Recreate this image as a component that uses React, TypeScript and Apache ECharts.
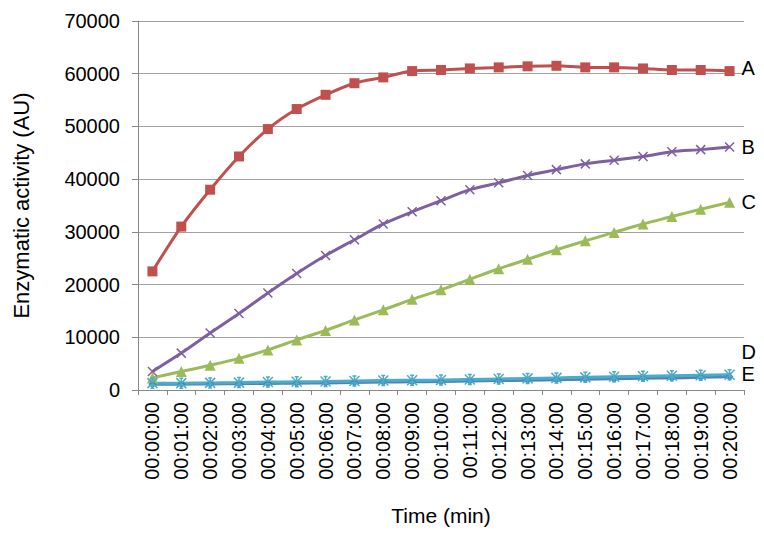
import React, { useEffect, useRef } from "react";
import * as echarts from "echarts";

const times = [
  "00:00:00", "00:01:00", "00:02:00", "00:03:00", "00:04:00", "00:05:00", "00:06:00",
  "00:07:00", "00:08:00", "00:09:00", "00:10:00", "00:11:00", "00:12:00", "00:13:00",
  "00:14:00", "00:15:00", "00:16:00", "00:17:00", "00:18:00", "00:19:00", "00:20:00",
];
const seriesA = [22500, 31000, 38000, 44300, 49500, 53300, 56000, 58200, 59300, 60500, 60700, 61000, 61200, 61400, 61500, 61200, 61200, 61000, 60700, 60700, 60500];
const seriesB = [3500, 7000, 10800, 14500, 18400, 22100, 25500, 28500, 31500, 33800, 35900, 38000, 39300, 40700, 41800, 42900, 43600, 44300, 45200, 45600, 46100];
const seriesC = [2300, 3500, 4700, 6000, 7600, 9500, 11300, 13300, 15200, 17200, 19000, 21000, 23000, 24800, 26600, 28300, 29900, 31500, 32900, 34300, 35600];
const seriesD = [1300, 1300, 1350, 1400, 1500, 1550, 1600, 1700, 1800, 1850, 1900, 2000, 2100, 2200, 2300, 2400, 2500, 2600, 2700, 2800, 2900];
const seriesE = [1100, 1100, 1150, 1200, 1250, 1300, 1350, 1400, 1500, 1550, 1600, 1700, 1800, 1850, 1950, 2050, 2150, 2250, 2300, 2400, 2500];

const FONT = "'Liberation Sans', Arial, sans-serif";

export default function App() {
  const ref = useRef<HTMLDivElement>(null);
  useEffect(() => {
    if (!ref.current) return;
    const chart = echarts.init(ref.current, null, { renderer: "svg" });
    const endLabel = (offset: number[]) => ({
      show: true,
      formatter: "{a}",
      distance: 12,
      offset,
      color: "#000",
      fontSize: 20,
      fontFamily: FONT,
    });
    const mk = (
      name: string,
      data: number[],
      color: string,
      symbol: string,
      symbolSize: number,
      offset: number[],
      stroke: boolean
    ) => ({
      name,
      type: "line",
      data,
      symbol,
      symbolSize,
      smooth: 0.3,
      lineStyle: { color, width: 3 },
      itemStyle: stroke
        ? { color, borderColor: color, borderWidth: 1.5 }
        : { color, borderWidth: 0 },
      endLabel: endLabel(offset),
    });
    chart.setOption({
      animation: false,
      backgroundColor: "#fff",
      grid: {
        left: 130,
        right: 28,
        top: 13,
        bottom: 153,
        containLabel: false,
        outerBoundsMode: "none",
      },
      xAxis: {
        type: "category",
        data: times,
        boundaryGap: true,
        name: "Time (min)",
        nameLocation: "middle",
        nameGap: 115,
        nameTextStyle: { color: "#000", fontSize: 21, fontFamily: FONT },
        axisLine: { lineStyle: { color: "#888", width: 1 } },
        axisTick: { show: true, length: 5, interval: 0, lineStyle: { color: "#888" } },
        axisLabel: {
          rotate: 90,
          interval: 0,
          margin: 12,
          color: "#000",
          fontSize: 20,
          fontFamily: FONT,
        },
      },
      yAxis: {
        type: "value",
        min: 0,
        max: 70000,
        interval: 10000,
        name: "Enzymatic activity (AU)",
        nameLocation: "middle",
        nameGap: 106,
        nameTextStyle: { color: "#000", fontSize: 22, fontFamily: FONT },
        axisLine: { show: true, lineStyle: { color: "#888", width: 1 } },
        axisTick: { show: true, length: 6, lineStyle: { color: "#888" } },
        splitLine: { lineStyle: { color: "#a0a0a0", width: 1 } },
        axisLabel: {
          margin: 18,
          color: "#000",
          fontSize: 20,
          fontFamily: FONT,
          formatter: (v: number) => String(v),
        },
      },
      series: [
        mk("A", seriesA, "#C0504D", "rect", 10, [0, -3], false),
        mk("B", seriesB, "#7E60A1", "path://M0,0L10,10M10,0L0,10", 9, [0, 0], true),
        mk("C", seriesC, "#9BBB59", "triangle", 11, [0, 0], false),
        mk("E", seriesE, "#4F81BD", "diamond", 8, [0, -3], false),
        mk("D", seriesD, "#4BACC6", "path://M0,0L10,10M10,0L0,10M5,0L5,10M3,0L7,0M3,10L7,10", 10, [0, -23], true),
      ],
    });
    return () => chart.dispose();
  }, []);
  return <div ref={ref} style={{ width: 764, height: 535 }} />;
}
